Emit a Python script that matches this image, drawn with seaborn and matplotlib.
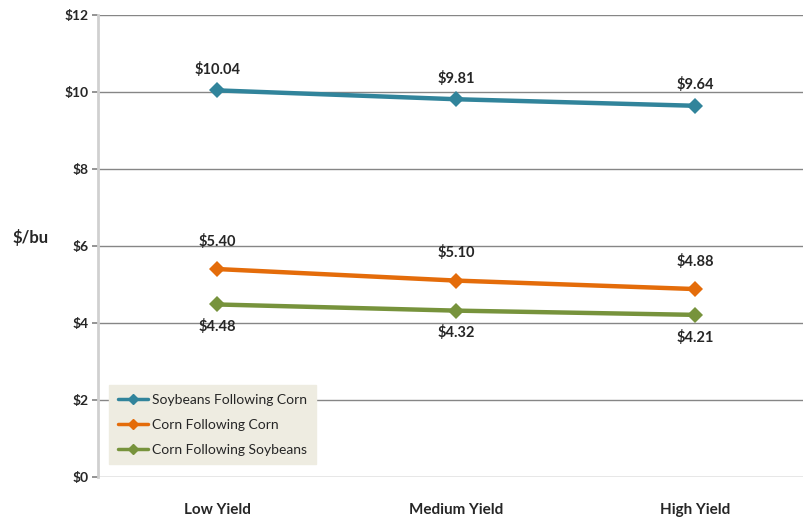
import pandas as pd
import numpy as np
import seaborn as sns
from matplotlib import pyplot as plt

# values
yields = ['Low Yield', 'Medium Yield', 'High Yield']
soy_after_corn = [10.04, 9.81, 9.64]
corn_after_corn = [5.40, 5.10, 4.88]
corn_after_soy = [4.48, 4.32, 4.21]
series = ['Soybeans Following Corn', 'Corn Following Corn', 'Corn Following Soybeans']
colors = ['#31849B', '#E46C0A', '#77933C']

df = pd.DataFrame({
    'yield': yields * 3,
    'price': soy_after_corn + corn_after_corn + corn_after_soy,
    'series': [s for s in series for _ in yields],
})
df['x'] = df['yield'].map({y: i for i, y in enumerate(yields)})

sns.set_theme(style='white')
plt.rcParams['font.family'] = ['Lato', 'DejaVu Sans']

fig = plt.figure(figsize=(8.04, 5.18), dpi=100)
ax = fig.add_axes([0.1219, 0.0792, 0.878, 0.892])

sns.lineplot(data=df, x='x', y='price', hue='series', palette=colors,
             marker='D', markersize=8, markeredgewidth=0, linewidth=3.2,
             ax=ax, legend=False)

# data labels: soybeans/corn-corn above, corn-soy below
for vals, col, off in [(soy_after_corn, colors[0], 15), (corn_after_corn, colors[1], 20),
                       (corn_after_soy, colors[2], -16)]:
    for i, v in enumerate(vals):
        ax.annotate(f'${v:.2f}', (i, v), xytext=(0, off), textcoords='offset points',
                    ha='center', va='center', fontsize=10.5, fontweight='bold', color='#262626')

ax.set_xlim(-0.5, 2.454)
ax.set_ylim(0, 12)
ax.set_yticks(range(0, 13, 2))
ax.set_yticklabels([f'${t}' for t in range(0, 13, 2)], fontsize=10, fontweight='bold', color='#262626')
ax.set_xticks(range(len(yields)))
ax.set_xticklabels(yields, fontsize=11, fontweight='bold', color='#262626')
ax.tick_params(axis='x', length=0, pad=19)
ax.tick_params(axis='y', length=4, color='#868686', pad=3, left=True)
ax.set_xlabel('')
ax.set_ylabel('$/bu', rotation=0, fontsize=12, fontweight='bold', color='#262626')
ax.yaxis.set_label_coords(-0.095, 0.5)

ax.grid(axis='y', color='#868686', linewidth=1)
ax.set_axisbelow(True)
for s in ['top', 'right', 'bottom']:
    ax.spines[s].set_visible(False)
ax.spines['left'].set_color('#D0D0D0')
ax.spines['left'].set_linewidth(2)

handles = [plt.Line2D([], [], color=c, marker='D', markersize=5, linewidth=2.5) for c in colors]
leg = ax.legend(handles, series, loc='lower left', bbox_to_anchor=(0.006, 0.012),
                frameon=True, fancybox=False, facecolor='#EEECE1', edgecolor='#EEECE1',
                framealpha=1, fontsize=10, handlelength=2.2, handletextpad=0.3,
                labelspacing=0.95, borderpad=0.6)

fig.savefig('out.png', dpi=100)
